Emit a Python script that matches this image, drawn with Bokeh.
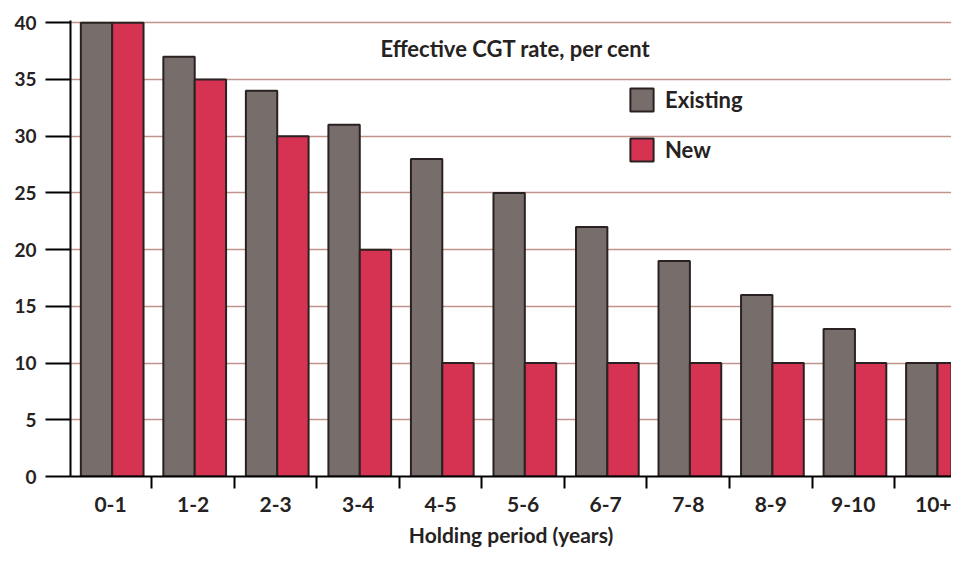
from bokeh.plotting import figure
from bokeh.models import (ColumnDataSource, FixedTicker, Legend, LegendItem, Label, Range1d)
from bokeh.embed import file_html
from bokeh.resources import INLINE

# ---- data ----
periods = ["0-1", "1-2", "2-3", "3-4", "4-5", "5-6", "6-7", "7-8", "8-9", "9-10", "10+"]
existing = [40, 37, 34, 31, 28, 25, 22, 19, 16, 13, 10]
new = [40, 35, 30, 20, 10, 10, 10, 10, 10, 10, 10]
y_ticks = [0, 5, 10, 15, 20, 25, 30, 35, 40]

FONT = "Lato"
TXT = "#262222"
GRAY = "#776d6a"
RED = "#d63353"
EDGE = "#2a2222"

idx = list(range(len(periods)))
src = ColumnDataSource(dict(
    xg=[i - 0.17 for i in idx],
    xr=[i + 0.21 for i in idx],
    existing=existing,
    new=new,
))

p = figure(width=951, height=549, output_backend="svg", toolbar_location=None,
           x_range=Range1d(-0.485, 10.19), y_range=Range1d(0, 40.2),
           min_border_left=70, min_border_right=0, min_border_top=20,
           min_border_bottom=73)
p.outline_line_color = None
p.background_fill_color = "white"

g = p.vbar(x="xg", top="existing", width=0.38, source=src, fill_color=GRAY,
           line_color=EDGE, line_width=2)
r = p.vbar(x="xr", top="new", width=0.38, source=src, fill_color=RED,
           line_color=EDGE, line_width=2)

# grid
p.xgrid.visible = False
p.ygrid.ticker = FixedTicker(ticks=y_ticks)
p.ygrid.grid_line_color = "#c0938d"
p.ygrid.grid_line_width = 1.3
p.ygrid.level = "underlay"

# y axis
ya = p.yaxis[0]
ya.ticker = FixedTicker(ticks=y_ticks)
ya.axis_line_color = "black"
ya.axis_line_width = 2
ya.major_tick_out = 25
ya.major_tick_in = 0
ya.major_tick_line_color = "black"
ya.major_tick_line_width = 2
ya.minor_tick_line_color = None
ya.major_label_standoff = 9
ya.major_label_text_font = FONT
ya.major_label_text_font_size = "19px"
ya.major_label_text_font_style = "bold"
ya.major_label_text_color = TXT

# x axis
xa = p.xaxis[0]
xa.ticker = FixedTicker(ticks=idx, minor_ticks=[i + 0.5 for i in idx])
xa.major_label_overrides = {i: lab for i, lab in zip(idx, periods)}
xa.axis_line_color = "black"
xa.axis_line_width = 2
xa.major_tick_line_color = None
xa.major_tick_out = 0
xa.major_tick_in = 0
xa.minor_tick_out = 12
xa.minor_tick_in = 0
xa.minor_tick_line_color = "black"
xa.minor_tick_line_width = 2
xa.major_label_standoff = 8
xa.major_label_text_font = FONT
xa.major_label_text_font_size = "21px"
xa.major_label_text_font_style = "bold"
xa.major_label_text_color = TXT
xa.axis_label = "Holding period (years)"
xa.axis_label_text_font = FONT
xa.axis_label_text_font_style = "bold"
xa.axis_label_text_font_size = "21px"
xa.axis_label_text_color = TXT
xa.axis_label_standoff = 7

# annotation
p.add_layout(Label(x=3.27, y=37.7, text="Effective CGT rate, per cent",
                   text_font=FONT, text_font_size="22px", text_font_style="bold",
                   text_color=TXT, text_baseline="middle", text_align="left"))

# legend
legend = Legend(items=[LegendItem(label="Existing", renderers=[g]),
                       LegendItem(label="New", renderers=[r])],
                location=(557, 312), orientation="vertical",
                glyph_width=29, glyph_height=29, spacing=21,
                label_standoff=9, padding=0, margin=0,
                label_text_font=FONT, label_text_font_size="22px",
                label_text_font_style="bold", label_text_color=TXT,
                background_fill_alpha=0, border_line_alpha=0)
p.add_layout(legend)

open("out.html", "w").write(file_html(p, INLINE))
